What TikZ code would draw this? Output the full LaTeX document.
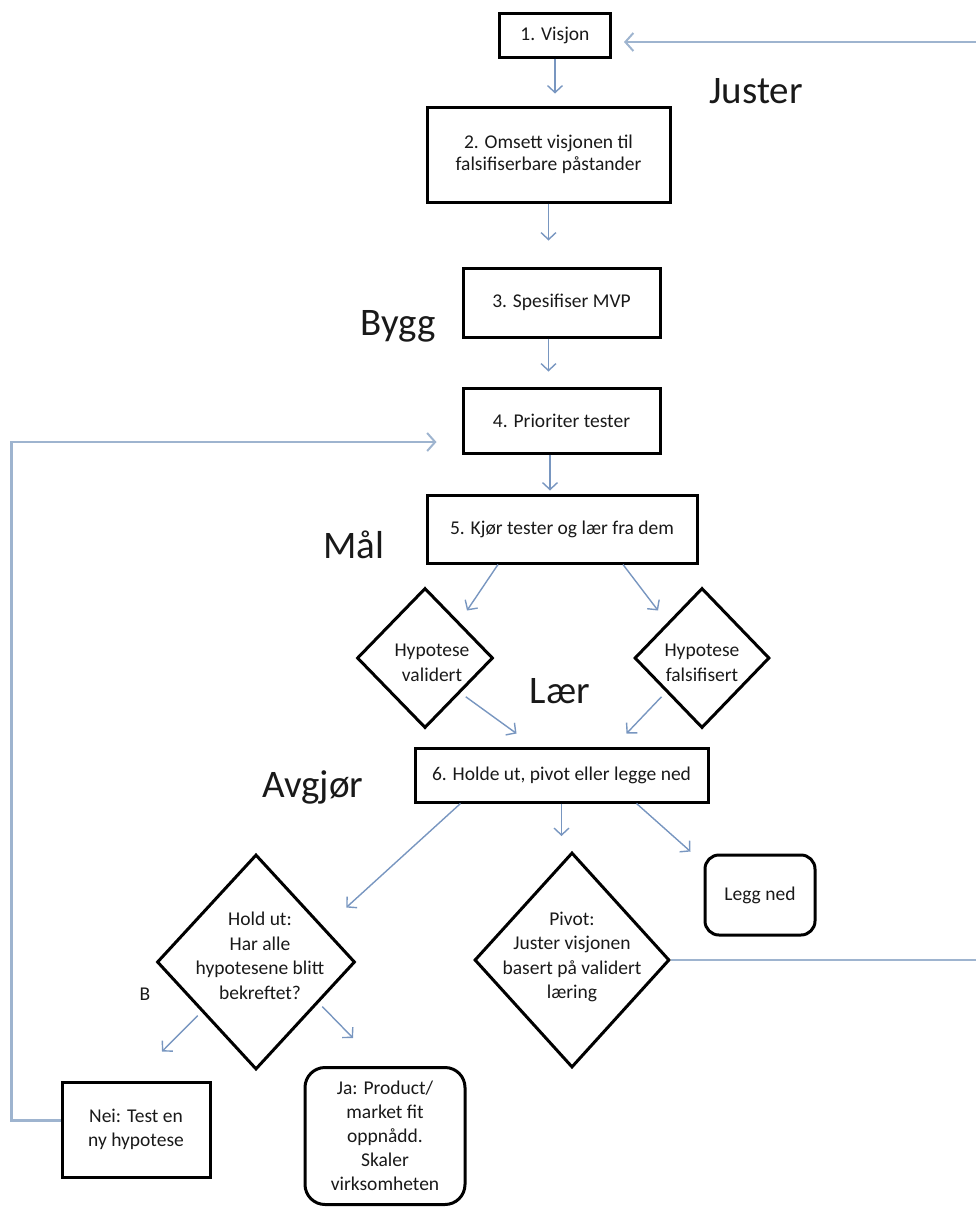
\documentclass[tikz,border=0pt]{standalone}
\usepackage{fontspec}
\setmainfont{Carlito}
\usetikzlibrary{shapes.geometric,arrows.meta}
\definecolor{arrowblue}{RGB}{120,150,192}
\definecolor{loopblue}{RGB}{158,180,207}
\definecolor{ink}{RGB}{25,25,25}
\begin{document}
\begin{tikzpicture}[x=1pt,y=-1pt,
  box/.style={draw=black,line width=3pt,rectangle,inner sep=0pt,align=center,text=ink,
    font=\fontsize{19.5}{24}\selectfont},
  rbox/.style={box,rounded corners=14pt},
  dia/.style={draw=black,line width=3pt,diamond,inner sep=0pt},
  dtext/.style={align=center,text=ink,inner sep=0pt,font=\fontsize{19.5}{24.5}\selectfont},
  phase/.style={anchor=base,text=ink,font=\fontsize{39}{44}\selectfont},
  arr/.style={draw=arrowblue,line width=1.4pt,
    -{Straight Barb[length=7pt,width=15pt,line width=1.4pt]}},
  loop/.style={draw=loopblue,line width=2.6pt,
    -{Straight Barb[length=8pt,width=18pt,line width=2pt]}}]
\useasboundingbox (0,0) rectangle (976,1208);

% main column of steps
\node[box,minimum width=111pt,minimum height=44pt] (visjon) at (555,35) {1. Visjon};
\node[box,minimum width=243pt,minimum height=95pt,font=\fontsize{19.5}{22}\selectfont]
  (omsett) at (548.5,154.5) {2. Omsett visjonen til\\falsifiserbare påstander};
\node[box,minimum width=197pt,minimum height=69pt] (mvp) at (561.5,302.5) {3. Spesifiser MVP};
\node[box,minimum width=197pt,minimum height=65pt] (prior) at (561.5,420.5) {4. Prioriter tester};
\node[box,minimum width=270pt,minimum height=68pt] (kjor) at (562,529) {5. Kjør tester og lær fra dem};

% outcome of the tests
\node[dia,minimum width=136pt,minimum height=140pt] (hval) at (425,658) {};
\node[dtext] (hvaltxt) at ([xshift=7pt,yshift=-5pt]hval.center) {Hypotese\\validert};
\node[dia,minimum width=135pt,minimum height=140pt] (hfal) at (702,658) {};
\node[dtext] (hfaltxt) at ([yshift=-5pt]hfal.center) {Hypotese\\falsifisert};

\node[box,minimum width=293pt,minimum height=54pt] (holde) at (561.5,775) {6. Holde ut, pivot eller legge ned};

% decisions
\node[dia,minimum width=198pt,minimum height=215pt] (hold) at (256,962) {};
\node[dtext] (holdtxt) at ([xshift=4pt,yshift=6pt]hold.center)
  {Hold ut:\\Har alle\\hypotesene blitt\\bekreftet?};
\node[dia,minimum width=195pt,minimum height=215pt] (pivot) at (572,960) {};
\node[dtext] (pivottxt) at ([yshift=3pt]pivot.center)
  {Pivot:\\Juster visjonen\\basert på validert\\læring};
\node[rbox,minimum width=110pt,minimum height=80pt] (legg) at (760,895) {Legg ned};

\node[box,minimum width=148pt,minimum height=95pt] (nei) at (136,1129.5) {Nei: Test en\\ny hypotese};
\node[box,rounded corners=20pt,minimum width=160pt,minimum height=137pt] (ja) at (385,1136)
  {Ja: Product/\\market fit\\oppnådd.\\Skaler\\virksomheten};

% phase labels
\node[phase] (juster) at (756,103) {Juster};
\node[phase] (bygg) at (398,335) {Bygg};
\node[phase] (maal) at (354,558) {Mål};
\node[phase] (laer) at (560,703) {Lær};
\node[phase] (avgjor) at (313,797) {Avgjør};
\node[dtext] (bmark) at (145,994) {B};

% flow arrows
\draw[arr,shorten >=12pt] (visjon.south) -- (visjon.south |- omsett.north);
\draw[arr,shorten >=26pt] (omsett.south) -- (omsett.south |- mvp.north);
\draw[arr,shorten >=15pt] (mvp.south -| omsett.south) -- (prior.north -| omsett.south);
\draw[arr,shorten >=3pt] ([xshift=1.5pt]prior.south -| omsett.south) -- ([xshift=1.5pt]kjor.north -| omsett.south);
\draw[arr] ([xshift=-64pt]kjor.south) -- ([xshift=42pt,yshift=-24pt]hval.north);
\draw[arr] ([xshift=61pt]kjor.south) -- ([xshift=-44pt,yshift=-24pt]hfal.north);
\draw[arr] ([xshift=6pt,yshift=-3pt]hval.south east) -- ([xshift=-45pt,yshift=13pt]holde.north);
\draw[arr] ([xshift=-6pt,yshift=-3pt]hfal.south west) -- ([xshift=65pt,yshift=13pt]holde.north);
\draw[arr] ([xshift=-101pt]holde.south) -- ([xshift=40pt]hold.north east);
\draw[arr,shorten >=15pt] (holde.south) -- (holde.south |- pivot.north);
\draw[arr] ([xshift=75pt]holde.south) -- ([xshift=-13pt,yshift=2pt]legg.north west);
\draw[arr] ([xshift=-8pt,yshift=1pt]hold.south west) -- ([xshift=26pt,yshift=29pt]nei.north);
\draw[arr] ([xshift=16pt,yshift=10pt]hold.south east) -- ([xshift=-32pt,yshift=28pt]ja.north);

% feedback loops
\draw[loop,shorten >=12pt] (pivot.east) -- ++(330pt,0) |- ([yshift=-7pt]visjon.east);
\draw[loop,shorten >=25pt] ([yshift=9pt]nei.west) -- ++(-49pt,0) |- ([yshift=-21.5pt]prior.west);
\end{tikzpicture}
\end{document}
